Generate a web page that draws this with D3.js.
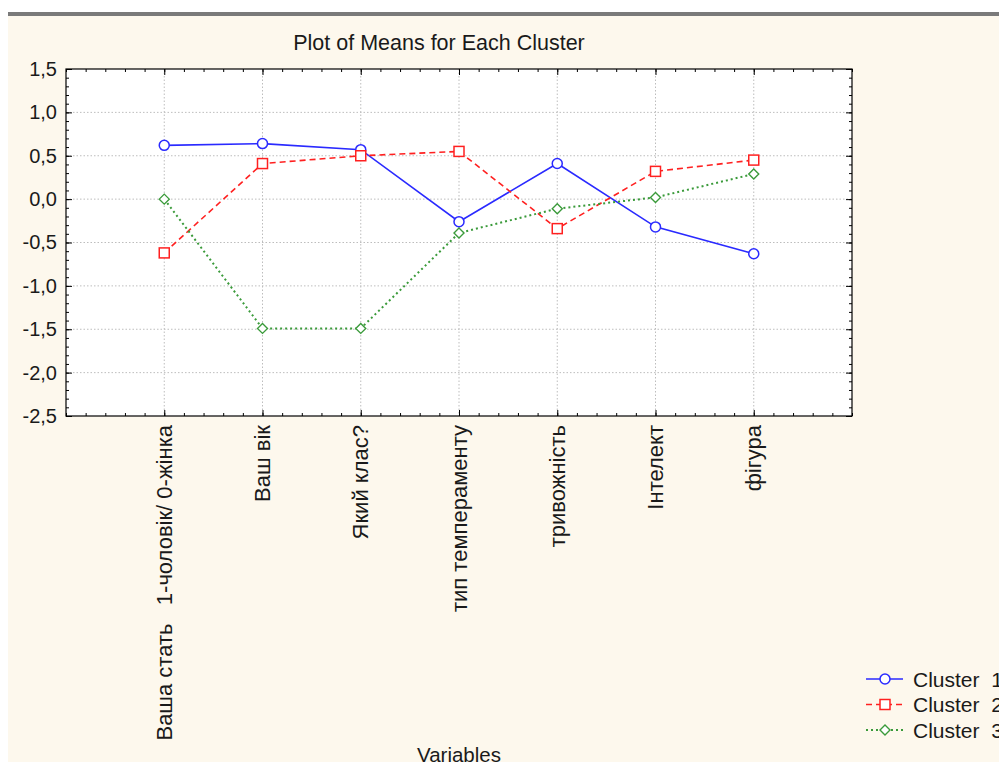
<!DOCTYPE html>
<html><head><meta charset="utf-8">
<script src="https://cdn.jsdelivr.net/npm/d3@7"></script>
<style>
html,body{margin:0;padding:0;background:#fff;}
svg{display:block;font-family:"Liberation Sans",Arial,sans-serif;}
</style></head>
<body>
<svg id="c" width="999" height="762"></svg>
<script>
const categories = ["Ваша стать   1-чоловік/ 0-жінка","Ваш вік","Який клас?","тип темпераменту","тривожність","Інтелект","фігура"];
const cluster1 = [0.62, 0.64, 0.57, -0.26, 0.41, -0.32, -0.63];
const cluster2 = [-0.62, 0.41, 0.50, 0.55, -0.34, 0.32, 0.45];
const cluster3 = [0.00, -1.49, -1.49, -0.39, -0.11, 0.02, 0.29];
const seriesNames = ["Cluster  1","Cluster  2","Cluster  3"];
const yTicks = [1.5, 1.0, 0.5, 0.0, -0.5, -1.0, -1.5, -2.0, -2.5];
const title = "Plot of Means for Each Cluster";
const xTitle = "Variables";

const svg = d3.select("#c");
const W = 999, H = 762;
const L = 66, R = 852, T = 69, B = 416;

// background
svg.append("rect").attr("x",0).attr("y",0).attr("width",W).attr("height",H).attr("fill","#fff");
svg.append("rect").attr("x",8).attr("y",12).attr("width",W-8).attr("height",H-12).attr("fill","#fdf8ed");
svg.append("rect").attr("x",8).attr("y",12).attr("width",W-8).attr("height",4).attr("fill","#7a7a7a");

const x = d3.scaleLinear().domain([0, categories.length + 1]).range([L, R]);
const y = d3.scaleLinear().domain([-2.5, 1.5]).range([B, T]);
const loc = d3.formatLocale({decimal:",", thousands:" ", grouping:[3], currency:["",""], minus:"-"});
const fmt = loc.format(".1f");

// plot area
svg.append("rect").attr("x",L).attr("y",T).attr("width",R-L).attr("height",B-T).attr("fill","#fff");

// grid
const g = svg.append("g");
yTicks.filter(v => v < 1.5 && v > -2.5).forEach(v => {
  g.append("line").attr("x1",L).attr("x2",R).attr("y1",y(v)).attr("y2",y(v))
    .attr("stroke","#bdbdbd").attr("stroke-width",1).attr("stroke-dasharray","1.5,2");
});
categories.forEach((c,i) => {
  g.append("line").attr("x1",x(i+1)).attr("x2",x(i+1)).attr("y1",T).attr("y2",B)
    .attr("stroke","#bdbdbd").attr("stroke-width",1).attr("stroke-dasharray","1.5,2");
});

// minor ticks
const yMinor = d3.range(-25, 16).map(v => v/10);
const xMinor = d3.range(0, (categories.length+1)*5+1).map(v => v/5);
const axisStyle = sel => { sel.select(".domain").remove(); sel.selectAll("line").attr("stroke","#000"); };

svg.append("g").attr("transform",`translate(${L},0)`).call(d3.axisLeft(y).tickValues(yMinor).tickSize(-3).tickFormat("")).call(axisStyle);
svg.append("g").attr("transform",`translate(${R},0)`).call(d3.axisRight(y).tickValues(yMinor).tickSize(-3).tickFormat("")).call(axisStyle);
svg.append("g").attr("transform",`translate(0,${B})`).call(d3.axisBottom(x).tickValues(xMinor).tickSize(-3).tickFormat("")).call(axisStyle);
svg.append("g").attr("transform",`translate(0,${T})`).call(d3.axisTop(x).tickValues(xMinor).tickSize(-3).tickFormat("")).call(axisStyle);

// major y axis
const yAx = svg.append("g").attr("transform",`translate(${L},0)`)
  .call(d3.axisLeft(y).tickValues(yTicks).tickSize(-6).tickPadding(9).tickFormat(fmt));
yAx.select(".domain").remove();
yAx.selectAll("line").attr("stroke","#000");
yAx.selectAll("text").attr("font-size","20px").attr("fill","#1a1a1a").attr("font-family","Liberation Sans, Arial, sans-serif");
svg.append("g").attr("transform",`translate(${R},0)`)
  .call(d3.axisRight(y).tickValues(yTicks).tickSize(-6).tickFormat("")).call(axisStyle);

// major x axis
const xAx = svg.append("g").attr("transform",`translate(0,${B})`)
  .call(d3.axisBottom(x).tickValues(d3.range(1, categories.length+1)).tickSize(-6).tickFormat(""));
xAx.select(".domain").remove();
xAx.selectAll("line").attr("stroke","#000");
svg.append("g").attr("transform",`translate(0,${T})`)
  .call(d3.axisTop(x).tickValues(d3.range(1, categories.length+1)).tickSize(-6).tickFormat("")).call(axisStyle);

// category labels rotated
categories.forEach((c,i) => {
  svg.append("text")
    .attr("transform",`translate(${x(i+1)},${B+9}) rotate(-90)`)
    .attr("text-anchor","end").attr("dy","0.35em")
    .attr("font-size","22px").attr("fill","#1a1a1a")
    .style("white-space","pre").attr("xml:space","preserve")
    .text(c);
});

// frame
svg.append("rect").attr("x",L).attr("y",T).attr("width",R-L).attr("height",B-T)
  .attr("fill","none").attr("stroke","#000").attr("stroke-width",1.2);

// series
const series = [
  {name: seriesNames[0], values: cluster1, color:"#2a2aff", dash:null, marker:"circle"},
  {name: seriesNames[1], values: cluster2, color:"#ff2020", dash:"6,4", marker:"square"},
  {name: seriesNames[2], values: cluster3, color:"#3a9a3a", dash:"2,3", marker:"diamond"}
];
const line = d3.line().x((d,i) => x(i+1)).y(d => y(d));

function drawMarker(sel, type, cx, cy, color) {
  if (type === "circle") {
    sel.append("circle").attr("cx",cx).attr("cy",cy).attr("r",5)
      .attr("fill","#fff").attr("stroke",color).attr("stroke-width",1.5);
  } else if (type === "square") {
    sel.append("rect").attr("x",cx-5).attr("y",cy-5).attr("width",10).attr("height",10)
      .attr("fill","#fff").attr("stroke",color).attr("stroke-width",1.5);
  } else {
    sel.append("path").attr("d",`M${cx},${cy-5}L${cx+5},${cy}L${cx},${cy+5}L${cx-5},${cy}Z`)
      .attr("fill","#fff").attr("stroke",color).attr("stroke-width",1.4);
  }
}

series.forEach(s => {
  svg.append("path").datum(s.values).attr("d",line).attr("fill","none")
    .attr("stroke",s.color).attr("stroke-width",s.marker==="diamond"?2:1.6)
    .attr("stroke-dasharray",s.dash);
});
series.forEach(s => {
  const gm = svg.append("g");
  s.values.forEach((v,i) => drawMarker(gm, s.marker, x(i+1), y(v), s.color));
});

// title
svg.append("text").attr("x",439).attr("y",50).attr("text-anchor","middle")
  .attr("font-size","21.5px").attr("fill","#1a1a1a").text(title);

// x title
svg.append("text").attr("x",459).attr("y",762).attr("text-anchor","middle")
  .attr("font-size","20.5px").attr("fill","#1a1a1a").text(xTitle);

// legend
const lg = svg.append("g");
series.forEach((s,i) => {
  const ly = 679 + i*25.5;
  lg.append("line").attr("x1",866).attr("x2",903).attr("y1",ly).attr("y2",ly)
    .attr("stroke",s.color).attr("stroke-width",s.marker==="diamond"?2:1.6).attr("stroke-dasharray",s.dash);
  drawMarker(lg, s.marker, 885, ly, s.color);
  lg.append("text").attr("x",913).attr("y",ly).attr("dy","0.36em")
    .attr("font-size","21px").attr("fill","#1a1a1a").attr("xml:space","preserve").style("white-space","pre")
    .text(s.name);
});
</script>
</body></html>
